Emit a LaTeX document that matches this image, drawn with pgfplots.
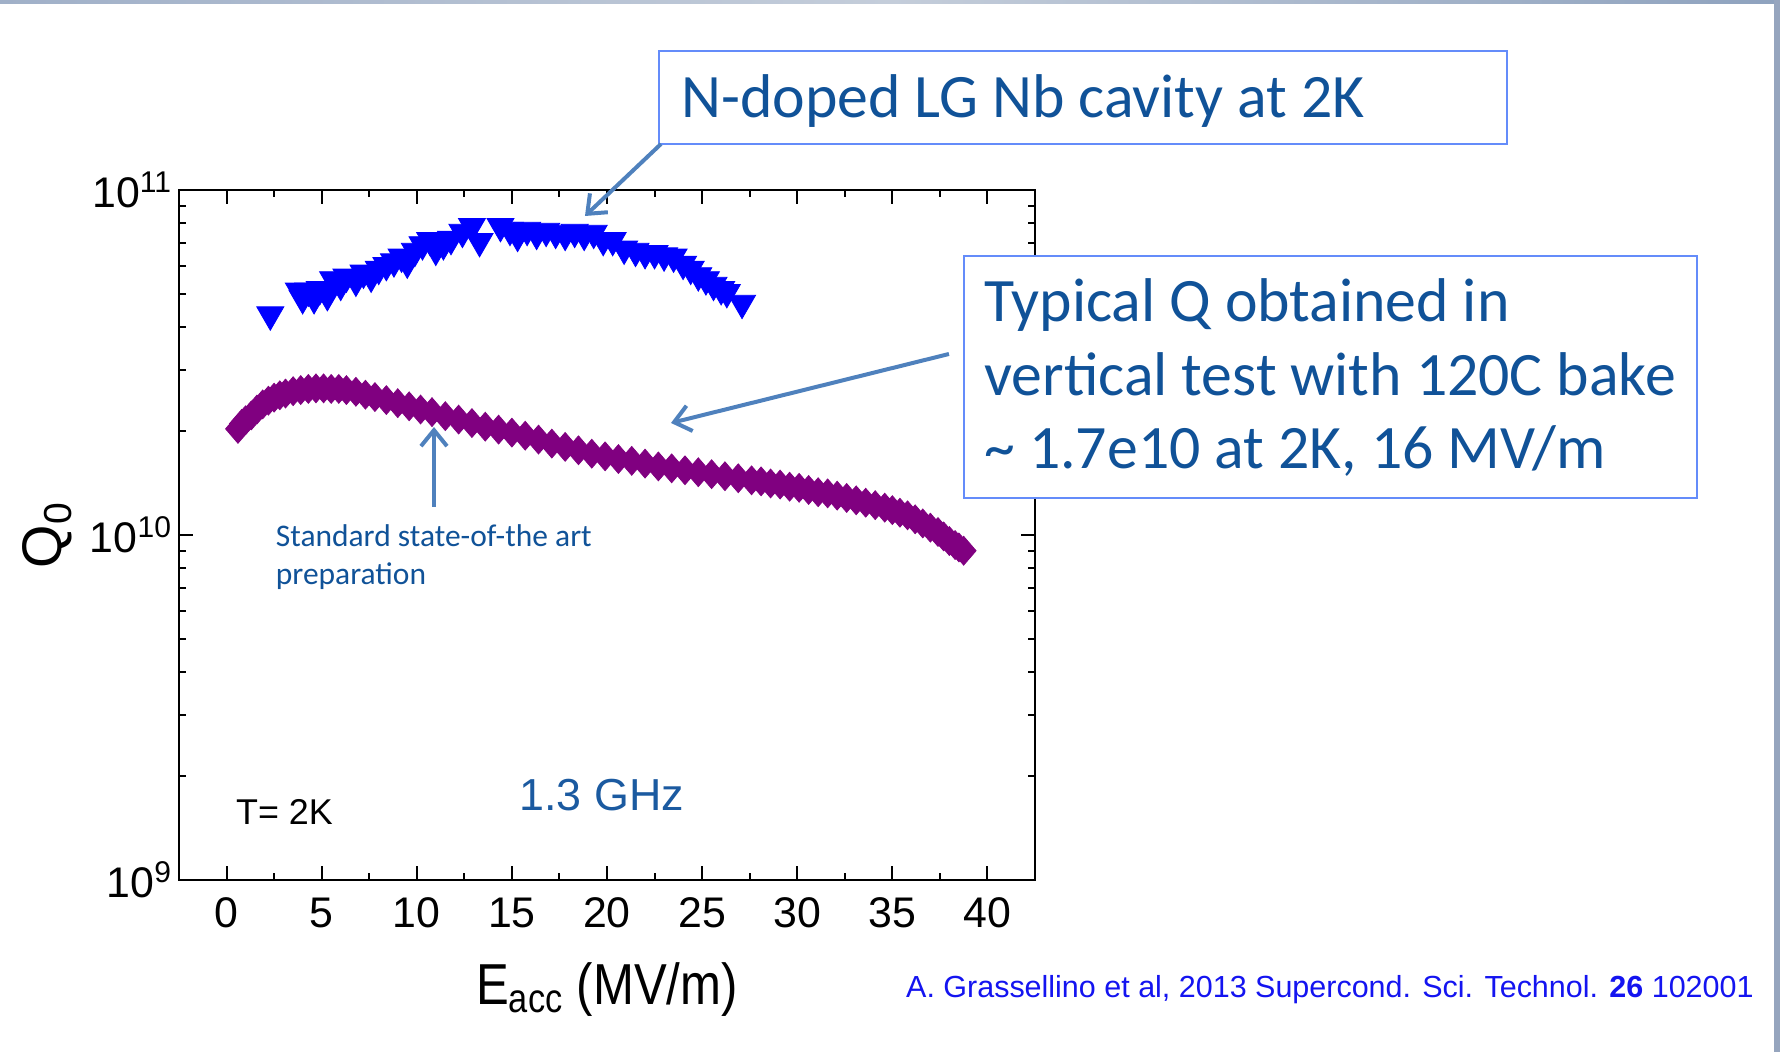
\documentclass[border=0pt]{standalone}
\usepackage{fontspec}
\setmainfont{Liberation Sans}
\newfontfamily\calibri{Carlito}
\usepackage{pgfplots}
\pgfplotsset{compat=1.18}
\usetikzlibrary{arrows.meta}
\definecolor{pptblue}{RGB}{16,82,152}
\definecolor{ghzblue}{RGB}{27,90,160}
\definecolor{boxline}{RGB}{100,140,250}
\definecolor{arrowblue}{RGB}{79,129,189}
\definecolor{citeblue}{RGB}{20,20,240}
\definecolor{mypurple}{RGB}{128,0,128}
\definecolor{barcol}{RGB}{150,165,190}
\definecolor{barA}{RGB}{160,176,200}
\definecolor{barB}{RGB}{196,205,218}
\definecolor{barC}{RGB}{142,162,190}
\begin{document}
\begin{tikzpicture}
\useasboundingbox (0,0) rectangle (890bp,526bp);
\begin{axis}[
  at={(89.5bp,86bp)}, anchor=south west,
  scale only axis, width=428bp, height=345bp,
  xmin=-2.5, xmax=42.5,
  ymode=log, ymin=1e9, ymax=1e11,
  xtick={0,5,...,40}, minor x tick num=1,
  ytick={1e9,1e10,1e11},
  yticklabels={10\textsuperscript{9},10\textsuperscript{10},10\textsuperscript{11}},
  tick align=inside,
  major tick length=7bp, minor tick length=3.5bp,
  axis line style={line width=1.3bp},
  every tick/.append style={black, line width=1bp},
  tick label style={font=\fontsize{21.5}{24}\selectfont},
  xticklabel style={yshift=-5.5bp},
  /pgf/number format/assume math mode=true,
  xlabel={E\textsubscript{acc} (MV/m)},
  xlabel style={font=\fontsize{29}{32}\selectfont, anchor=base, xscale=0.85, at={(axis description cs:0.5,-0.1812)}},
  ylabel={Q\textsubscript{0}},
  ylabel style={font=\fontsize{28}{30}\selectfont, anchor=center, at={(axis description cs:-0.1536,0.5)}},
  clip=false,
]
\addplot[only marks, mark=triangle*, mark size=7.8bp, mark options={rotate=180, fill=blue, draw=blue}] table {
x y
2.3 4.35e10
3.8 5.10e10
4.0 4.85e10
4.3 5.10e10
4.6 4.85e10
4.9 5.15e10
5.3 4.95e10
5.6 5.50e10
6.0 5.30e10
6.3 5.60e10
6.8 5.45e10
7.2 5.75e10
7.6 5.60e10
8.0 5.90e10
8.4 6.05e10
8.8 6.20e10
9.2 6.40e10
9.5 6.15e10
9.9 6.65e10
10.3 6.95e10
10.7 7.15e10
11.0 6.70e10
11.4 6.95e10
11.8 7.20e10
12.4 7.55e10
12.9 7.85e10
13.3 7.10e10
14.4 7.85e10
14.9 7.65e10
15.3 7.35e10
15.8 7.65e10
16.3 7.45e10
16.8 7.60e10
17.3 7.50e10
17.8 7.40e10
18.3 7.55e10
18.8 7.40e10
19.3 7.50e10
19.8 7.15e10
20.3 7.15e10
20.9 6.75e10
21.5 6.65e10
22.0 6.55e10
22.5 6.55e10
23.0 6.45e10
23.5 6.40e10
24.0 6.10e10
24.4 5.90e10
24.8 5.65e10
25.2 5.50e10
25.6 5.30e10
26.0 5.15e10
26.3 5.05e10
27.1 4.70e10
};
\addplot[only marks, mark=diamond*, mark size=7.2bp, mark options={xscale=1.15, fill=mypurple, draw=mypurple}] table {
x y
0.6 2.03e10
0.8 2.10e10
1.0 2.15e10
1.3 2.22e10
1.6 2.31e10
1.9 2.39e10
2.2 2.45e10
2.5 2.50e10
2.8 2.54e10
3.1 2.57e10
3.5 2.61e10
3.9 2.63e10
4.3 2.65e10
4.7 2.66e10
5.1 2.66e10
5.5 2.65e10
5.9 2.65e10
6.3 2.63e10
6.8 2.60e10
7.3 2.55e10
7.8 2.51e10
8.4 2.46e10
9.0 2.41e10
9.6 2.36e10
10.2 2.31e10
10.8 2.27e10
11.5 2.21e10
12.2 2.16e10
12.9 2.11e10
13.6 2.06e10
14.3 2.02e10
15.0 1.98e10
15.7 1.94e10
16.4 1.89e10
17.1 1.84e10
17.8 1.80e10
18.5 1.76e10
19.2 1.72e10
19.9 1.69e10
20.6 1.66e10
21.3 1.64e10
22.0 1.61e10
22.7 1.58e10
23.4 1.56e10
24.1 1.54e10
24.8 1.52e10
25.5 1.50e10
26.2 1.48e10
26.9 1.46e10
27.6 1.44e10
28.1 1.43e10
28.6 1.41e10
29.1 1.40e10
29.6 1.38e10
30.1 1.37e10
30.6 1.35e10
31.1 1.33e10
31.6 1.32e10
32.1 1.30e10
32.6 1.28e10
33.1 1.26e10
33.6 1.24e10
34.1 1.22e10
34.6 1.20e10
35.0 1.18e10
35.4 1.16e10
35.8 1.14e10
36.2 1.11e10
36.6 1.08e10
37.0 1.05e10
37.4 1.02e10
37.7 0.99e10
38.0 0.96e10
38.3 0.935e10
38.5 0.92e10
38.75 0.90e10
};
\end{axis}
\begin{scope}[x=0.5bp,y=-0.5bp,shift={(0,526bp)}]
  % slide decoration
  \shade[left color=barA, right color=barC, middle color=barB] (0,0) rectangle (1780,4);
  \fill[barcol] (1774,0) rectangle (1780,1052);
  % box 1
  \draw[boxline, line width=1.2bp, fill=white] (659,51) rectangle (1507,144);
  \node[anchor=base west, inner sep=0, text=pptblue, font=\calibri\fontsize{31}{36}\selectfont] at (681,117.5) {N-doped LG Nb cavity at 2K};
  \draw[arrowblue, line width=2bp, -{Straight Barb[length=8bp,width=13bp]}] (661,144) -- (585,216);
  % box 2
  \draw[boxline, line width=1.2bp, fill=white] (964,256) rectangle (1697,498);
  \node[anchor=base west, inner sep=0, text=pptblue, font=\calibri\fontsize{31}{36}\selectfont] at (984,322) {Typical Q obtained in};
  \node[anchor=base west, inner sep=0, text=pptblue, font=\calibri\fontsize{31}{36}\selectfont] at (984,395.5) {vertical test with 120C bake};
  \node[anchor=base west, inner sep=0, text=pptblue, font=\calibri\fontsize{31}{36}\selectfont] at (984,468.5) {\textasciitilde{} 1.7e10 at 2K, 16 MV/m};
  \draw[arrowblue, line width=2bp, -{Straight Barb[length=8bp,width=13bp]}] (949,354) -- (671,423);
  % standard preparation
  \node[anchor=base west, inner sep=0, text=pptblue, font=\calibri\fontsize{15.8}{19}\selectfont] at (275.5,547) {Standard state-of-the art};
  \node[anchor=base west, inner sep=0, text=pptblue, font=\calibri\fontsize{15.8}{19}\selectfont] at (275.5,585) {preparation};
  \draw[arrowblue, line width=2bp, -{Straight Barb[length=8bp,width=13bp]}] (434,507) -- (434,427);
  % in-plot texts
  \node[anchor=base west, inner sep=0, text=ghzblue, font=\fontsize{22.5}{26}\selectfont] at (519,811) {1.3 GHz};
  \node[anchor=base west, inner sep=0, text=black, font=\fontsize{18}{20}\selectfont] at (235.7,825) {T= 2K};
  % citation
  \node[anchor=base west, inner sep=0, text=citeblue, font=\fontsize{15.3}{18}\selectfont] at (905.8,998) {A. Grassellino et al, 2013 Supercond. Sci. Technol. \textbf{26} 102001};
\end{scope}
\end{tikzpicture}
\end{document}
